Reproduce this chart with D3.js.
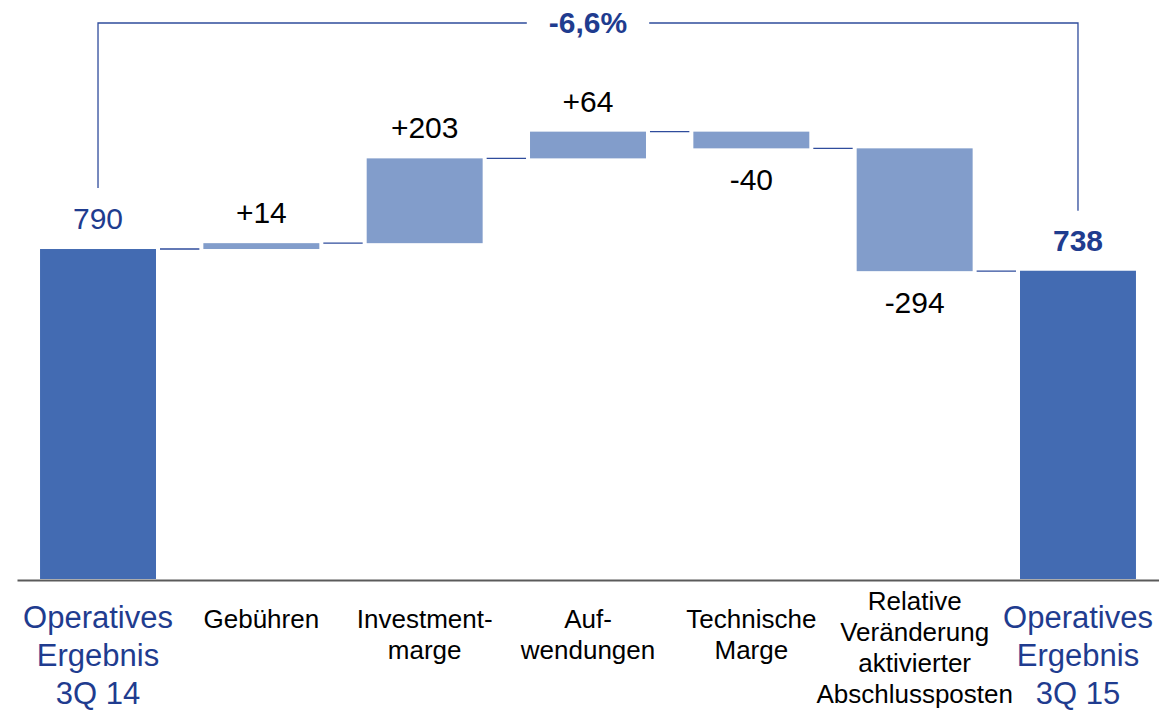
<!DOCTYPE html>
<html>
<head>
<meta charset="utf-8">
<script src="https://cdn.jsdelivr.net/npm/d3@7"></script>
<style>
  html, body { margin: 0; padding: 0; background: #fff; }
  svg { display: block; font-family: 'Liberation Sans', Arial, sans-serif; }
</style>
</head>
<body>
<div class="chart-waterfall"></div>
<script>
'use strict';

// chart data
var categoryLines = [
  ['Operatives', 'Ergebnis', '3Q 14'],
  ['Gebühren'],
  ['Investment-', 'marge'],
  ['Auf-', 'wendungen'],
  ['Technische', 'Marge'],
  ['Relative', 'Veränderung', 'aktivierter', 'Abschlussposten'],
  ['Operatives', 'Ergebnis', '3Q 15']
];
var values = [790, 14, 203, 64, -40, -294, 738];
var barTypes = ['total', 'delta', 'delta', 'delta', 'delta', 'delta', 'total'];
var valueLabels = ['790', '+14', '+203', '+64', '-40', '-294', '738'];
var changeLabel = '-6,6%';

var width = 1159, height = 714;
var baseY = 579;
var darkBlue = '#436bb2', lightBlue = '#829dcb', textBlue = '#1f3c8f', lineBlue = '#2f4c9c';

var svg = d3.select('.chart-waterfall')
  .append('svg')
  .attr('width', width)
  .attr('height', height);

// build waterfall steps
var cum = 0;
var steps = values.map(function (v, i) {
  var s = {i: i, v: v, type: barTypes[i], label: valueLabels[i], lines: categoryLines[i]};
  if (s.type === 'total') {
    s.y0 = 0; s.y1 = v; cum = v;
  } else {
    s.y0 = cum; s.y1 = cum + v; cum = cum + v;
  }
  s.end = s.type === 'total' ? v : s.y1;
  return s;
});

var x = d3.scaleBand()
  .domain(steps.map(function (d) { return d.i; }))
  .range([17, width])
  .paddingInner(0.29)
  .paddingOuter(0.141);

var y = d3.scaleLinear()
  .domain([0, 1000])
  .range([baseY, baseY - 417.7]);

// baseline
var axis = svg.append('g')
  .attr('transform', 'translate(0,' + (baseY + 1) + ')')
  .call(d3.axisBottom(x).tickSize(0).tickFormat(''));
axis.select('.domain').attr('stroke', '#5a5a5a').attr('stroke-width', 2);

// bars
svg.selectAll('rect.bar')
  .data(steps)
  .enter()
  .append('rect')
  .attr('class', 'bar')
  .attr('x', function (d) { return x(d.i); })
  .attr('y', function (d) { return y(Math.max(d.y0, d.y1)); })
  .attr('width', x.bandwidth())
  .attr('height', function (d) { return Math.abs(y(d.y0) - y(d.y1)); })
  .attr('fill', function (d) { return d.type === 'total' ? darkBlue : lightBlue; });

// connectors
svg.selectAll('line.conn')
  .data(steps.slice(0, -1))
  .enter()
  .append('line')
  .attr('class', 'conn')
  .attr('x1', function (d) { return x(d.i) + x.bandwidth() + 4; })
  .attr('x2', function (d) { return x(d.i + 1) - 4; })
  .attr('y1', function (d) { return y(d.end); })
  .attr('y2', function (d) { return y(d.end); })
  .attr('stroke', lineBlue)
  .attr('stroke-width', 1.3);

// value labels
svg.selectAll('text.value')
  .data(steps)
  .enter()
  .append('text')
  .attr('class', 'value')
  .attr('x', function (d) { return x(d.i) + x.bandwidth() / 2; })
  .attr('y', function (d) {
    if (d.type === 'delta' && d.v < 0) return y(d.y1) + 42;
    return y(Math.max(d.y0, d.y1)) - 20;
  })
  .attr('text-anchor', 'middle')
  .attr('font-size', '30px')
  .attr('font-weight', function (d) { return d.i === steps.length - 1 ? 'bold' : 'normal'; })
  .attr('fill', function (d) { return d.type === 'total' ? textBlue : '#000'; })
  .text(function (d) { return d.label; });

// category labels
var cats = svg.selectAll('text.cat')
  .data(steps)
  .enter()
  .append('text')
  .attr('class', 'cat')
  .attr('text-anchor', 'middle')
  .attr('font-size', function (d) { return d.type === 'total' ? '31px' : '26px'; })
  .attr('fill', function (d) { return d.type === 'total' ? textBlue : '#000'; })
  .attr('transform', function (d) {
    var y0 = d.lines.length > 3 ? 610 : 628;
    return 'translate(' + (x(d.i) + x.bandwidth() / 2) + ',' + y0 + ')';
  });

cats.selectAll('tspan')
  .data(function (d) {
    return d.lines.map(function (l) { return {t: l, lh: d.type === 'total' ? 38 : 31}; });
  })
  .enter()
  .append('tspan')
  .attr('x', 0)
  .attr('y', function (d, i) { return i * d.lh; })
  .text(function (d) { return d.t; });

// change bracket
var first = steps[0], last = steps[steps.length - 1];
var xl = x(first.i) + x.bandwidth() / 2;
var xr = x(last.i) + x.bandwidth() / 2;
var topY = 23;
var midX = (xl + xr) / 2;

var pct = svg.append('text')
  .attr('x', midX)
  .attr('y', topY + 10)
  .attr('text-anchor', 'middle')
  .attr('font-size', '30px')
  .attr('font-weight', 'bold')
  .attr('fill', textBlue)
  .text(changeLabel);

var half = pct.node().getBBox().width / 2 + 22;

svg.append('path')
  .attr('d', 'M' + xl + ',' + (y(first.v) - 61) + 'V' + topY + 'H' + (midX - half))
  .attr('fill', 'none')
  .attr('stroke', lineBlue)
  .attr('stroke-width', 1.3);

svg.append('path')
  .attr('d', 'M' + (midX + half) + ',' + topY + 'H' + xr + 'V' + (y(last.v) - 60))
  .attr('fill', 'none')
  .attr('stroke', lineBlue)
  .attr('stroke-width', 1.3);
</script>
</body>
</html>
